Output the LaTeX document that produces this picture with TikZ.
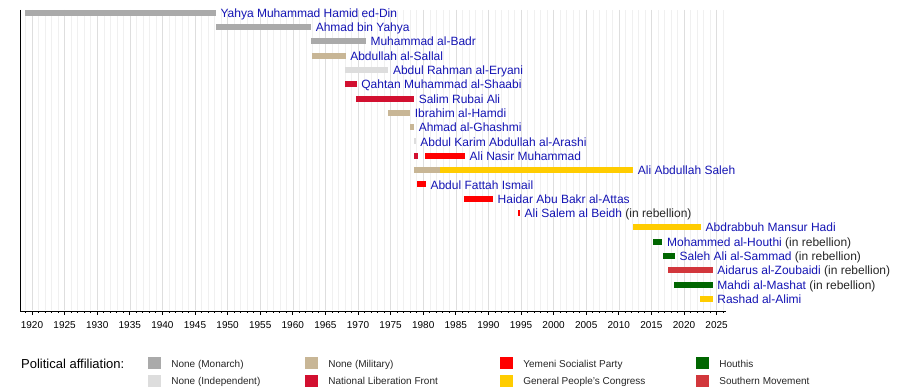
\documentclass[tikz,border=0pt]{standalone}
\usepackage{fontspec}
\setmainfont{Liberation Sans}
\usepackage{tikz}
\usetikzlibrary{positioning}
\definecolor{monarch}{RGB}{170,170,170}
\definecolor{independent}{RGB}{221,221,221}
\definecolor{military}{RGB}{200,182,150}
\definecolor{nlf}{RGB}{210,16,48}
\definecolor{ysp}{RGB}{255,0,0}
\definecolor{gpc}{RGB}{255,204,0}
\definecolor{houthis}{RGB}{0,102,0}
\definecolor{southern}{RGB}{210,55,60}
\definecolor{namecolor}{RGB}{20,20,180}
\definecolor{gridmajor}{RGB}{222,222,222}
\definecolor{gridminor}{RGB}{240,240,240}
\newcommand{\yr}[1]{#1-1920}
\newcommand{\inrebellion}{\textcolor{black!85}{(in rebellion)}}
\tikzstyle{leader} = [anchor=base west, inner sep=0, xshift=4.5pt, yshift=-4.6pt, text=namecolor,
                      font=\fontsize{12}{14}\selectfont]
\tikzstyle{axis} = [black, line width=0.8pt]
\tikzstyle{ticklabel} = [anchor=base, inner sep=0, font=\fontsize{10}{12}\selectfont]
\tikzstyle{swatch} = [inner sep=0, minimum width=13pt, minimum height=12pt]
\tikzstyle{legend} = [inner sep=0, text=black!85, font=\fontsize{10}{12}\selectfont]

\begin{document}
\begin{tikzpicture}[x=1pt, y=-1pt]
\useasboundingbox (0,0) rectangle (900,390);

% grid and time axis
\begin{scope}[xshift=32pt, x=6.52pt]
	\foreach \t in {-1,...,106}
		\draw [gridminor] (\t,10) -- (\t,310);
	\foreach \t in {0,5,...,105}
		\draw [gridmajor] (\t,10) -- (\t,310);

	\coordinate (AxisTop) at (-1.84,10);
	\coordinate (Origin) at (-1.84,311);
	\coordinate (AxisEnd) at (106.44,311);
	\draw [axis] (AxisTop) -- (Origin) -- (AxisEnd);
	\foreach \t in {-1,...,106}
		\draw [axis] (\t,311) -- (\t,313);
	\foreach \t in {0,5,...,105} {
		\draw [axis] (\t,311) -- (\t,315);
		\pgfmathtruncatemacro{\tickyear}{1920+\t}
		\node (Tick\tickyear) [ticklabel] at (\t,328.6) {\tickyear};
	}

	\begin{scope}[yshift=-12.7pt, y=-14.31pt]
		% kingdom
		\fill [monarch] (\yr{1918.9},-0.21) rectangle (\yr{1948.2},0.21);
		\node (Yahya) [leader] at (\yr{1948.2},0) {Yahya Muhammad Hamid ed-Din};
		\fill [monarch] (\yr{1948.2},0.79) rectangle (\yr{1962.8},1.21);
		\node (Ahmad) [leader] at (\yr{1962.8},1) {Ahmad bin Yahya};
		\fill [monarch] (\yr{1962.8},1.79) rectangle (\yr{1971.2},2.21);
		\node (Badr) [leader] at (\yr{1971.2},2) {Muhammad al-Badr};

		% north
		\fill [military] (\yr{1963.0},2.79) rectangle (\yr{1968.1},3.21);
		\node (Sallal) [leader] at (\yr{1968.1},3) {Abdullah al-Sallal};
		\fill [independent] (\yr{1968.0},3.79) rectangle (\yr{1974.65},4.21);
		\node (Eryani) [leader] at (\yr{1974.65},4) {Abdul Rahman al-Eryani};

		% south
		\fill [nlf] (\yr{1968.0},4.79) rectangle (\yr{1969.8},5.21);
		\node (Qahtan) [leader] at (\yr{1969.8},5) {Qahtan Muhammad al-Shaabi};
		\fill [nlf] (\yr{1969.7},5.79) rectangle (\yr{1978.6},6.21);
		\node (Salim) [leader] at (\yr{1978.6},6) {Salim Rubai Ali};

		\fill [military] (\yr{1974.6},6.79) rectangle (\yr{1978.0},7.21);
		\node (Hamdi) [leader] at (\yr{1978.0},7) {Ibrahim al-Hamdi};
		\fill [military] (\yr{1978.0},7.79) rectangle (\yr{1978.6},8.21);
		\node (Ghashmi) [leader] at (\yr{1978.6},8) {Ahmad al-Ghashmi};
		\fill [independent] (\yr{1978.55},8.79) rectangle (\yr{1978.85},9.21);
		\node (Arashi) [leader] at (\yr{1978.85},9) {Abdul Karim Abdullah al-Arashi};

		\fill [nlf] (\yr{1978.55},9.79) rectangle (\yr{1979.2},10.21);
		\fill [ysp] (\yr{1980.3},9.79) rectangle (\yr{1986.4},10.21);
		\node (AliNasir) [leader] at (\yr{1986.4},10) {Ali Nasir Muhammad};

		\fill [military] (\yr{1978.55},10.79) rectangle (\yr{1982.6},11.21);
		\fill [gpc] (\yr{1982.6},10.79) rectangle (\yr{2012.2},11.21);
		\node (Saleh) [leader] at (\yr{2012.2},11) {Ali Abdullah Saleh};

		\fill [ysp] (\yr{1979.1},11.79) rectangle (\yr{1980.4},12.21);
		\node (Ismail) [leader] at (\yr{1980.4},12) {Abdul Fattah Ismail};
		\fill [ysp] (\yr{1986.3},12.79) rectangle (\yr{1990.7},13.21);
		\node (Attas) [leader] at (\yr{1990.7},13) {Haidar Abu Bakr al-Attas};
		\fill [ysp] (\yr{1994.55},13.79) rectangle (\yr{1994.85},14.21);
		\node (Beidh) [leader] at (\yr{1994.85},14) {Ali Salem al Beidh \inrebellion};

		% unified republic
		\fill [gpc] (\yr{2012.2},14.79) rectangle (\yr{2022.6},15.21);
		\node (Hadi) [leader] at (\yr{2022.6},15) {Abdrabbuh Mansur Hadi};
		\fill [houthis] (\yr{2015.2},15.79) rectangle (\yr{2016.7},16.21);
		\node (Houthi) [leader] at (\yr{2016.7},16) {Mohammed al-Houthi \inrebellion};
		\fill [houthis] (\yr{2016.8},16.79) rectangle (\yr{2018.6},17.21);
		\node (Sammad) [leader] at (\yr{2018.6},17) {Saleh Ali al-Sammad \inrebellion};
		\fill [southern] (\yr{2017.5},17.79) rectangle (\yr{2024.4},18.21);
		\node (Zoubaidi) [leader] at (\yr{2024.4},18) {Aidarus al-Zoubaidi \inrebellion};
		\fill [houthis] (\yr{2018.5},18.79) rectangle (\yr{2024.4},19.21);
		\node (Mashat) [leader] at (\yr{2024.4},19) {Mahdi al-Mashat \inrebellion};
		\fill [gpc] (\yr{2022.5},19.79) rectangle (\yr{2024.4},20.21);
		\node (Alimi) [leader] at (\yr{2024.4},20) {Rashad al-Alimi};
	\end{scope}
\end{scope}

% legend
\node (Affiliation) [anchor=base west, inner sep=0, font=\fontsize{13}{15}\selectfont] at (21,368.3) {Political affiliation:};

\node (SwMonarch) [swatch, fill=monarch] at (154.5,363.3) {};
\node (LegendMonarch) [legend, right=10pt of SwMonarch, anchor=base west, yshift=-3.8pt] {None (Monarch)};
\node (SwIndependent) [swatch, fill=independent] at (154.5,380.7) {};
\node (LegendIndependent) [legend, right=10pt of SwIndependent, anchor=base west, yshift=-3.8pt] {None (Independent)};

\node (SwMilitary) [swatch, fill=military] at (311.5,363.3) {};
\node (LegendMilitary) [legend, right=10pt of SwMilitary, anchor=base west, yshift=-3.8pt] {None (Military)};
\node (SwNlf) [swatch, fill=nlf] at (311.5,380.7) {};
\node (LegendNlf) [legend, right=10pt of SwNlf, anchor=base west, yshift=-3.8pt] {National Liberation Front};

\node (SwYsp) [swatch, fill=ysp] at (506.5,363.3) {};
\node (LegendYsp) [legend, right=10pt of SwYsp, anchor=base west, yshift=-3.8pt] {Yemeni Socialist Party};
\node (SwGpc) [swatch, fill=gpc] at (506.5,380.7) {};
\node (LegendGpc) [legend, right=10pt of SwGpc, anchor=base west, yshift=-3.8pt] {General People's Congress};

\node (SwHouthis) [swatch, fill=houthis] at (702.5,363.3) {};
\node (LegendHouthis) [legend, right=10pt of SwHouthis, anchor=base west, yshift=-3.8pt] {Houthis};
\node (SwSouthern) [swatch, fill=southern] at (702.5,380.7) {};
\node (LegendSouthern) [legend, right=10pt of SwSouthern, anchor=base west, yshift=-3.8pt] {Southern Movement};
\end{tikzpicture}
\end{document}
